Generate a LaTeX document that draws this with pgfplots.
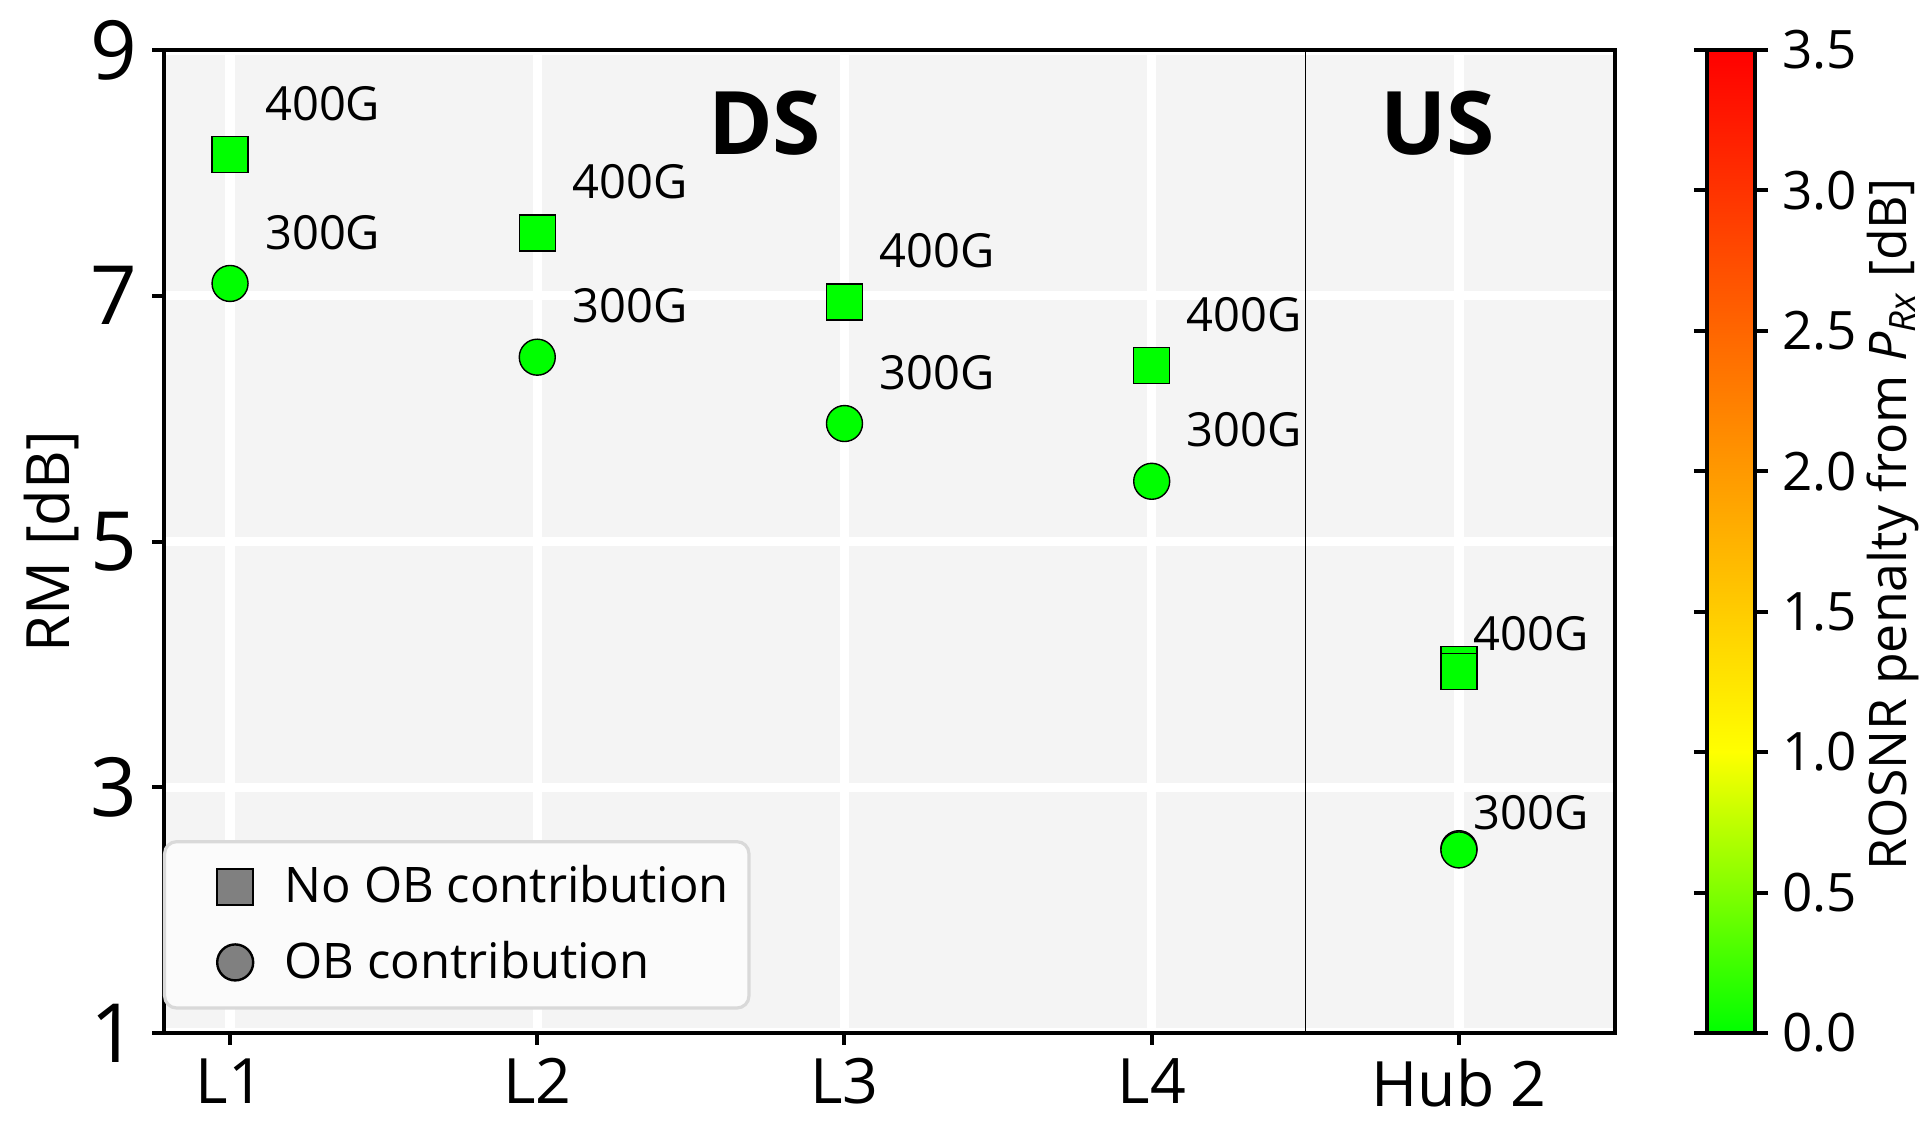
\documentclass[border=0pt]{standalone}
\usepackage{fontspec}
\setmainfont{Open Sans}
\usepackage{pgfplots}
\pgfplotsset{compat=1.18}
\pgfplotsset{/pgf/number format/assume math mode=true}
\definecolor{bg}{HTML}{F4F4F4}
\definecolor{mgreen}{RGB}{0,255,0}
\definecolor{legfill}{HTML}{FBFBFB}
\definecolor{legedge}{HTML}{D9D9D9}
\newcommand{\lab}{\fontsize{11.8}{14}\selectfont}
\begin{document}
\begin{tikzpicture}
\path[use as bounding box] (0,0) rectangle (482.25bp,283.5bp);
\begin{axis}[
  at={(41bp,25.25bp)}, anchor=south west,
  scale only axis, width=362.75bp, height=245.75bp,
  xmin=-0.215, xmax=4.508, ymin=1, ymax=9,
  xtick={0,1,2,3,4}, xticklabels={L1,L2,L3,L4,Hub 2},
  ytick={1,3,5,7,9},
  axis background/.style={fill=bg},
  xmajorgrids, ymajorgrids,
  major grid style={white, line width=2.3bp},
  tick align=outside, tick pos=left,
  major tick length=2.9bp,
  every tick/.style={black, line width=1bp},
  axis line style={line width=1bp},
  xticklabel style={font=\fontsize{15.7}{18}\selectfont, inner ysep=3.3bp},
  yticklabel style={font=\fontsize{20.5}{24}\selectfont, inner xsep=3.5bp},
  ylabel={RM [dB]},
  ylabel style={font=\fontsize{15}{18}\selectfont, at={(axis description cs:-0.0775,0.5)}, anchor=center},
  colormap={gyr}{rgb255(0cm)=(0,255,0) rgb255(1cm)=(255,255,0) rgb255(3.5cm)=(255,0,0)},
  point meta min=0, point meta max=3.5,
  colorbar,
  colorbar style={
    at={(parent axis.north east)}, anchor=north west, xshift=14.5bp,
    width=12bp,
    ytick={0,0.5,...,3.5},
    yticklabel style={font=\fontsize{13.3}{16}\selectfont, /pgf/number format/.cd, fixed, fixed zerofill, precision=1, assume math mode=true, /tikz/.cd},
    tick align=outside, major tick length=3.3bp,
    every tick/.style={black,line width=1bp},
    axis line style={line width=1bp},
    ylabel={ROSNR penalty from \textit{P}\textsubscript{\textit{Rx}} [dB]},
    ylabel style={font=\fontsize{13}{16}\selectfont, at={(axis description cs:3.87,0.5175)}, anchor=center},
  },
  legend cell align=left,
  legend style={at={(axis description cs:0,0)}, anchor=south west, xshift=-0.25bp, yshift=5.85bp,
    draw=legedge, fill=legfill, rounded corners=3bp, line width=0.8bp,
    inner xsep=3bp, inner ysep=4bp, font=\fontsize{12.3}{15}\selectfont,
    row sep=4bp,
    /tikz/every odd column/.append style={column sep=5.5bp}},
  legend image code/.code={\draw[#1] plot coordinates {(0bp,0bp)}; \path (-14.25bp,0bp) (4.5bp,0bp);},
]
\addlegendimage{only marks, mark=square*, mark size=4.5bp, mark options={fill=gray, draw=black, line width=0.6bp}}
\addlegendentry{No OB contribution}
\addlegendimage{only marks, mark=*, mark size=4.5bp, mark options={fill=gray, draw=black, line width=0.6bp}}
\addlegendentry{OB contribution}

\addplot[forget plot, black, line width=0.4bp] coordinates {(3.5,1) (3.5,9)};

\addplot[forget plot, only marks, mark=square*, mark size=4.5bp, mark options={fill=mgreen, draw=black, line width=0.35bp}]
  coordinates {(0,8.15) (1,7.51) (2,6.95) (3,6.43) (4,4.00) (4,3.94)};
\addplot[forget plot, only marks, mark=*, mark size=4.5bp, mark options={fill=mgreen, draw=black, line width=0.35bp}]
  coordinates {(0,7.10) (1,6.50) (2,5.96) (3,5.49) (4,2.50) (4,2.49)};

\node[anchor=base west, inner sep=0pt, font=\lab] at (axis cs:0.112,8.43) {400G};
\node[anchor=base west, inner sep=0pt, font=\lab] at (axis cs:0.112,7.378) {300G};
\node[anchor=base west, inner sep=0pt, font=\lab] at (axis cs:1.112,7.79) {400G};
\node[anchor=base west, inner sep=0pt, font=\lab] at (axis cs:1.112,6.78) {300G};
\node[anchor=base west, inner sep=0pt, font=\lab] at (axis cs:2.112,7.23) {400G};
\node[anchor=base west, inner sep=0pt, font=\lab] at (axis cs:2.112,6.24) {300G};
\node[anchor=base west, inner sep=0pt, font=\lab] at (axis cs:3.112,6.71) {400G};
\node[anchor=base west, inner sep=0pt, font=\lab] at (axis cs:3.112,5.77) {300G};
\node[anchor=base west, inner sep=0pt, font=\lab] at (axis cs:4.045,4.112) {400G};
\node[anchor=base west, inner sep=0pt, font=\lab] at (axis cs:4.045,2.659) {300G};

\node[anchor=base, inner sep=0pt, font=\fontsize{22}{26}\selectfont\bfseries] at (axis cs:1.74,8.146) {DS};
\node[anchor=base, inner sep=0pt, font=\fontsize{22}{26}\selectfont\bfseries] at (axis cs:3.93,8.146) {US};
\end{axis}
\end{tikzpicture}
\end{document}
